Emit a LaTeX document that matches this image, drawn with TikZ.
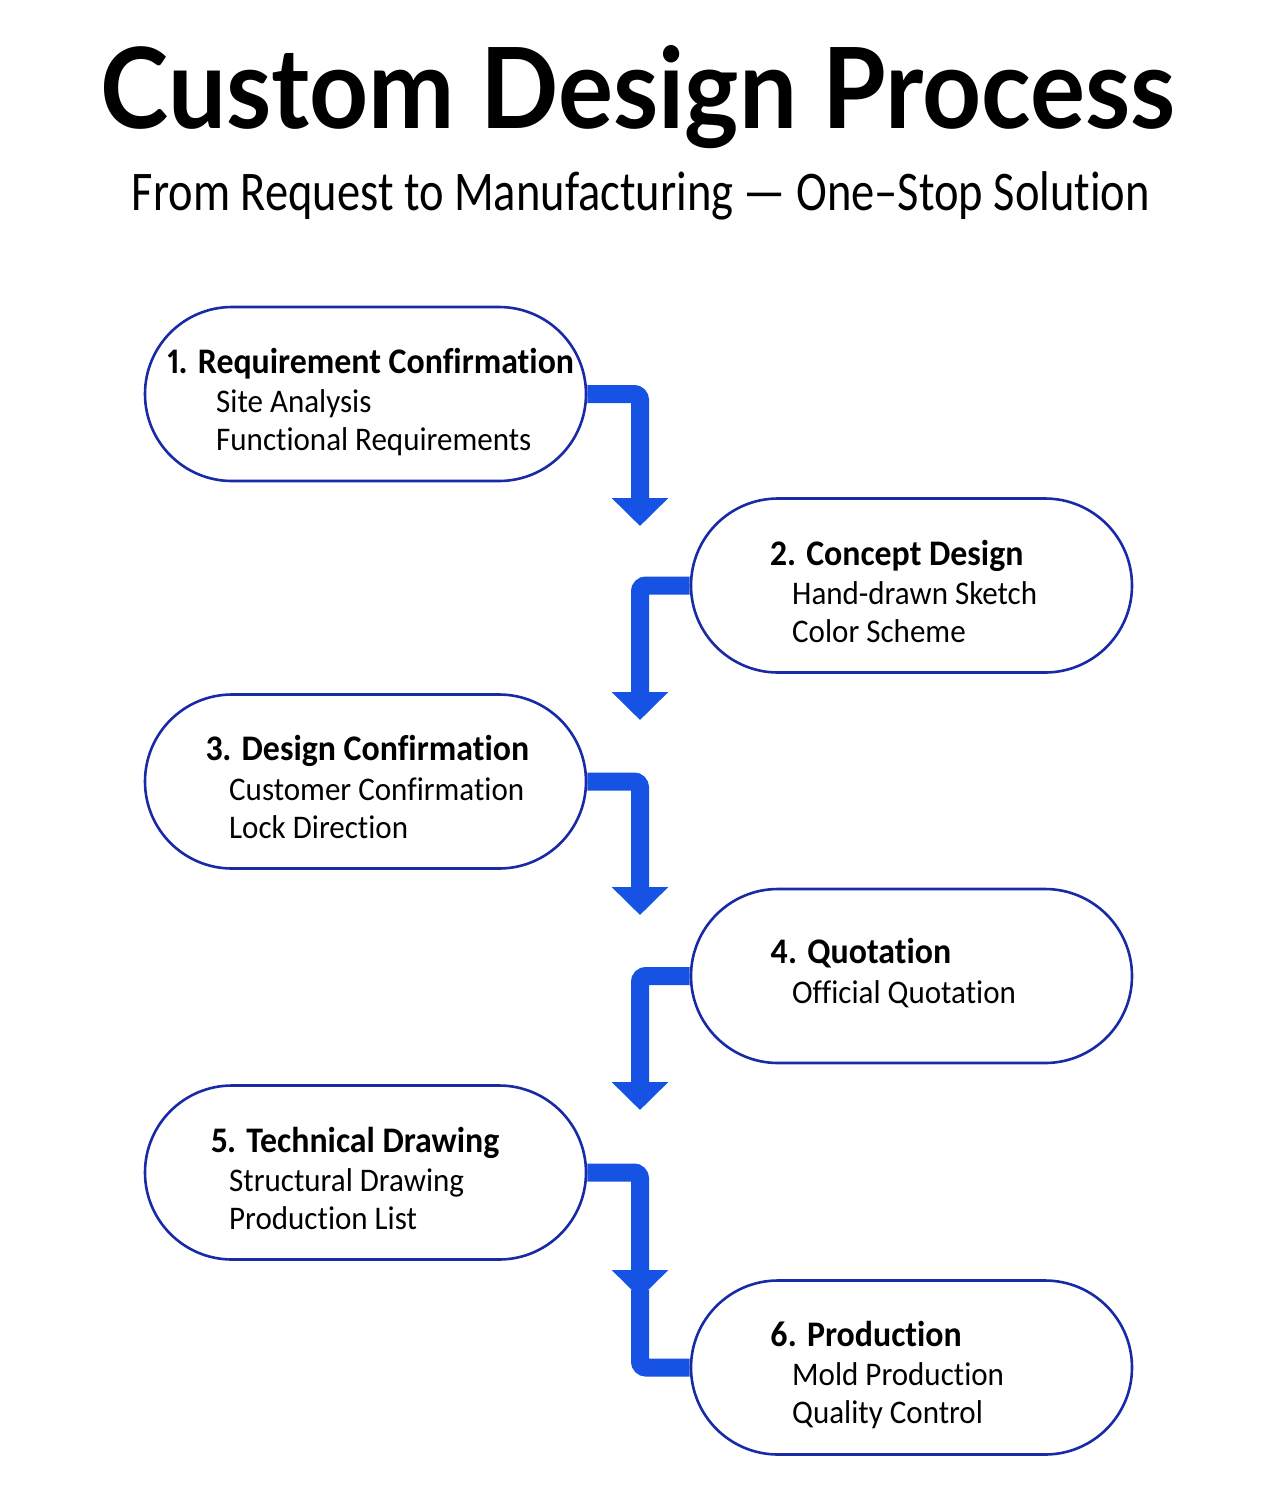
\documentclass[tikz,border=0pt]{standalone}
\usepackage{fontspec}
\setmainfont[FakeStretch=0.94,Numbers=Proportional,Ligatures=NoCommon]{Carlito}
\newfontfamily\titlefont[FakeStretch=0.92]{Lato}
\newfontfamily\subtfont[FakeStretch=0.83,Numbers=Proportional,Ligatures=NoCommon]{Carlito}
\usetikzlibrary{arrows.meta}
\pgfdeclarelayer{conn}
\pgfsetlayers{conn,main}
\definecolor{nodeblue}{RGB}{24,42,165}
\definecolor{arrowblue}{RGB}{22,82,228}
\tikzset{
  stadium/.style={draw=nodeblue, line width=2.6pt, fill=white, rounded corners=87pt,
    minimum width=441pt, minimum height=174pt, inner sep=0pt},
  head/.style={anchor=base west, inner sep=0pt, font=\fontsize{36}{40}\selectfont\bfseries},
  sub/.style={anchor=base west, inner sep=0pt, font=\fontsize{33}{38}\selectfont},
  conn/.style={draw=arrowblue, line width=18pt, rounded corners=6pt},
  tip/.style={-{Triangle[width=55pt,length=28pt]}},
}
\begin{document}
\begin{tikzpicture}[x=1pt,y=-1pt]
\path[use as bounding box] (0,0) rectangle (1280,1492);
\node[anchor=base, inner sep=0pt, font=\titlefont\fontsize{112}{120}\selectfont\bfseries] (title) at (638,128) {Custom Design Process};
\node[anchor=base, inner sep=0pt, font=\subtfont\fontsize{56}{60}\selectfont] (subtitle) at (641,210) {From Request to Manufacturing — One–Stop Solution};

\node[stadium] (n1) at (365.5,394) {};
\node[stadium] (n2) at (911.5,585.5) {};
\node[stadium] (n3) at (365.5,781.5) {};
\node[stadium] (n4) at (911.5,976) {};
\node[stadium] (n5) at (365.5,1172.5) {};
\node[stadium] (n6) at (911.5,1367.5) {};

\node[head] (h1) at (167,373) {1. Requirement Confirmation};
\node[sub] (s1a) at (216,412) {Site Analysis};
\node[sub] (s1b) at (216,450) {Functional Requirements};

\node[head] (h2) at (770,565) {2. Concept Design};
\node[sub] (s2a) at (792,604) {Hand-drawn Sketch};
\node[sub] (s2b) at (792,642) {Color Scheme};

\node[head] (h3) at (206,760) {3. Design Confirmation};
\node[sub] (s3a) at (229,800) {Customer Confirmation};
\node[sub] (s3b) at (229,838) {Lock Direction};

\node[head] (h4) at (770,963) {4. Quotation};
\node[sub] (s4a) at (792,1003) {Official Quotation};

\node[head] (h5) at (211,1152) {5. Technical Drawing};
\node[sub] (s5a) at (229,1191) {Structural Drawing};
\node[sub] (s5b) at (229,1229) {Production List};

\node[head] (h6) at (770,1346) {6. Production};
\node[sub] (s6a) at (792,1385) {Mold Production};
\node[sub] (s6b) at (792,1423) {Quality Control};

\coordinate (t1) at (640,526);
\coordinate (t2) at (640,720);
\coordinate (t3) at (640,915);
\coordinate (t4) at (640,1110);
\coordinate (t5) at (640,1298);
\coordinate (m5) at (640,1290);

\begin{pgfonlayer}{conn}
\draw[conn,tip] (n1.east) -| (t1);
\draw[conn,tip] (n2.west) -| (t2);
\draw[conn,tip] (n3.east) -| (t3);
\draw[conn,tip] (n4.west) -| (t4);
\draw[conn,tip] (n5.east) -| (t5);
\draw[conn] (m5) |- (n6.west);
\end{pgfonlayer}
\end{tikzpicture}
\end{document}
